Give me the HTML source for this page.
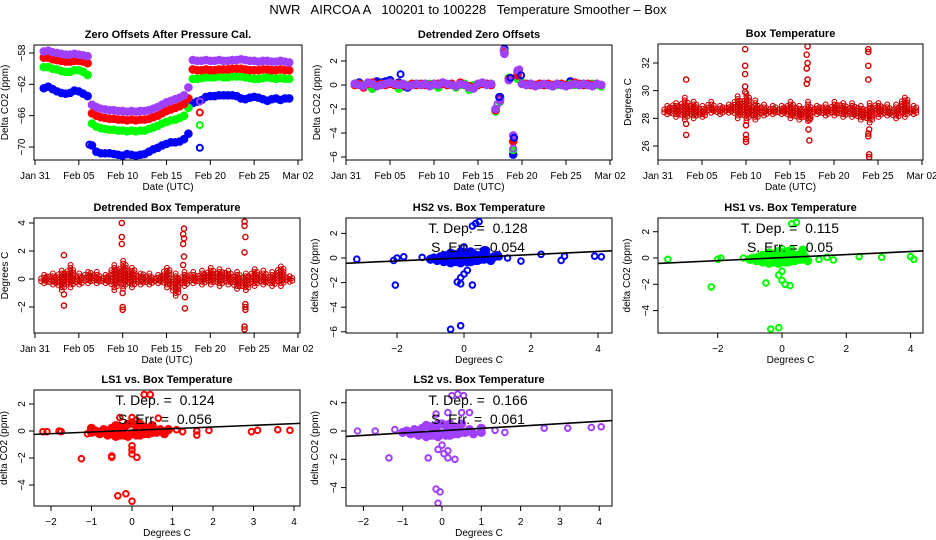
<!DOCTYPE html>
<html><head><meta charset="utf-8"><style>
body{margin:0;background:#fff;}
svg{display:block;font-family:"Liberation Sans",Arial,sans-serif;}
.tl{font-size:10px;}
.ttl{font-size:11px;font-weight:bold;}
.ann{font-size:14px;}
</style></head><body>
<svg id="fig" width="936" height="540" viewBox="0 0 936 540">
<rect width="936" height="540" fill="#fff"/>
<text x="468" y="14" text-anchor="middle" font-size="13" style="white-space:pre">NWR   AIRCOA A   100201 to 100228   Temperature Smoother – Box</text>
</svg>
<script>
// ---------- data ----------
const dateTickDays=[0,5,10,15,20,25,30];
const dateTickLabels=["Jan 31","Feb 05","Feb 10","Feb 15","Feb 20","Feb 25","Mar 02"];
const zoPurple=[-57.8,-57.7,-57.9,-58.0,-58.1,-58.2,-58.2,-58.1,-58.2,-58.3,-58.4,-64.6,-64.9,-65.1,-65.2,-65.3,-65.3,-65.4,-65.4,-65.5,-65.4,-65.5,-65.4,-65.4,-65.3,-65.1,-64.9,-64.6,-64.3,-64.1,-63.9,-63.7,-63.4,-62.4,-58.9,-59.0,-59.0,-58.9,-59.0,-59.0,-58.9,-59.0,-59.0,-58.9,-58.9,-58.8,-58.9,-59.0,-59.0,-59.1,-59.0,-59.0,-59.1,-59.1,-59.0,-59.1,-59.2];
const zoRed=[-58.6,-58.6,-58.8,-58.9,-59.0,-59.1,-59.1,-59.0,-59.0,-59.1,-59.3,-65.7,-66.0,-66.2,-66.3,-66.4,-66.4,-66.5,-66.5,-66.6,-66.5,-66.6,-66.5,-66.5,-66.4,-66.2,-66.0,-65.7,-65.4,-65.2,-65.0,-64.8,-64.5,-63.8,-60.1,-60.2,-60.2,-60.1,-60.2,-60.2,-60.1,-60.1,-60.1,-60.0,-60.0,-60.0,-60.1,-60.2,-60.2,-60.2,-60.1,-60.1,-60.2,-60.2,-60.1,-60.2,-60.2];
const zoGreen=[-59.8,-59.8,-60.0,-60.1,-60.3,-60.4,-60.4,-60.2,-60.2,-60.4,-60.8,-67.0,-67.4,-67.6,-67.7,-67.8,-67.8,-67.9,-67.9,-68.0,-67.9,-68.0,-67.9,-67.9,-67.7,-67.5,-67.3,-67.0,-66.8,-66.6,-66.5,-66.3,-66.0,-65.0,-61.3,-61.3,-61.2,-61.1,-61.1,-61.1,-61.0,-61.1,-61.1,-61.0,-61.0,-61.0,-61.1,-61.2,-61.3,-61.3,-61.2,-61.1,-61.2,-61.3,-61.2,-61.3,-61.3];
const zoBlue=[-62.5,-62.3,-62.6,-62.9,-63.1,-63.2,-63.1,-62.8,-62.9,-63.2,-63.5,-69.8,-70.6,-70.8,-70.8,-70.8,-70.9,-71.0,-71.1,-70.9,-71.0,-71.1,-71.0,-70.9,-70.6,-70.3,-70.1,-69.8,-69.6,-69.4,-69.4,-69.3,-69.0,-68.3,-64.4,-64.2,-64.0,-63.6,-63.5,-63.5,-63.4,-63.4,-63.4,-63.4,-63.5,-63.8,-63.9,-63.7,-63.6,-63.7,-63.9,-64.1,-63.9,-63.8,-64.0,-63.8,-63.8];
const zoOutDays=[18.8,18.8,18.8,18.8];
const zoOutVals=[-70.1,-67.2,-65.6,-64.2];
const dzPurple=[0.1,0.0,-0.1,0.2,0.1,-0.1,0.0,0.1,0.2,0.1,0.0,0.1,-0.1,0.0,0.1,0.0,0.1,-0.1,0.1,0.0,0.2,0.1,0.0,-0.1,0.1,0.0,-0.2,-0.3,0.1,0.2,0.0,0.1,-2.0,-1.3,2.6,0.4,-4.2,1.2,0.1,0.0,0.1,-0.1,0.0,0.1,0.0,-0.1,0.1,0.0,-0.1,0.0,0.1,0.0,0.1,0.0,-0.1,0.1,0.0];
const dzRed=[0.0,0.1,-0.2,0.1,0.2,0.0,0.1,0.0,0.1,0.0,0.1,0.0,-0.1,0.1,0.0,0.1,0.0,0.0,0.1,0.1,0.1,0.0,0.1,-0.1,0.2,0.0,-0.1,-0.2,0.0,0.1,0.1,0.0,-2.1,-1.2,2.7,0.5,-4.7,0.8,0.1,0.1,0.0,0.0,0.1,0.0,0.1,0.0,0.1,0.1,0.0,0.0,0.2,0.1,0.0,0.1,0.0,0.1,0.0];
const dzGreen=[0.0,0.1,0.0,0.1,-0.3,0.0,0.1,0.0,0.1,0.1,-0.3,0.1,0.0,0.1,0.0,0.1,0.0,0.1,0.0,-0.2,0.1,0.0,0.1,-0.2,0.0,0.1,-0.4,0.0,0.1,0.1,0.0,0.1,-2.2,-1.4,2.8,0.6,-5.4,0.5,0.2,0.0,0.1,0.0,0.1,0.0,0.1,0.0,0.0,0.1,0.0,0.1,0.0,0.1,0.0,0.1,0.1,0.0,-0.1];
const dzBlue=[0.1,0.2,0.0,0.1,-0.3,0.3,0.2,0.3,0.4,0.1,0.2,-0.1,-0.2,0.0,0.1,0.0,0.1,0.0,0.0,0.1,0.2,0.0,0.1,-0.1,0.1,0.0,-0.2,-0.2,0.0,0.1,0.1,0.0,-2.0,-1.0,3.0,0.5,-5.8,1.1,0.1,0.0,0.1,0.0,0.1,0.0,0.0,-0.1,0.1,0.0,0.0,0.3,0.1,0.0,0.1,0.0,0.0,0.1,0.0];
const dzOutDays=[6.2,17.2,17.4,17.9,18.7,19.0,19.1,19.7,19.9];
const dzOutVals=[0.9,-1.6,-1.0,2.9,0.6,-5.3,-4.4,1.3,0.8];
const btHi=[28.9,29.2,29.5,29.3,28.9,29.2,29.0,29.0,29.7,29.8,29.3,29.0,29.0,28.9,29.3,29.0,29.2,29.0,29.0,29.2,29.2,29.1,29.0,29.1,29.2,29.0,29.0,29.6,28.9];
const btLo=[28.3,28.1,27.9,28.0,28.1,28.4,28.3,28.4,28.0,27.8,27.9,28.2,28.3,28.3,28.0,27.9,27.8,28.3,28.2,28.2,28.1,28.1,27.9,27.7,28.1,28.2,28.0,28.1,28.3];
const btOutDays=[3.2,3.2,3.2,9.9,9.9,9.9,9.9,9.9,10.0,10.0,10.0,10.0,17.0,16.9,17.0,16.9,17.0,16.9,17.2,17.1,17.2,23.9,23.9,23.9,23.9,24.0,23.9,23.9,24.0,24.0];
const btOutVals=[30.8,27.6,26.8,33.0,31.8,31.2,30.3,29.9,27.5,26.8,26.5,26.3,33.2,32.6,32.0,31.6,30.8,30.5,27.9,27.2,26.4,33.0,32.8,31.8,30.8,27.2,26.9,26.7,25.4,25.2];
const dbHi=[0.3,0.4,0.7,1.0,0.4,0.6,0.5,0.4,1.1,1.3,0.9,0.5,0.4,0.3,0.9,0.5,0.5,0.5,0.6,0.8,0.8,0.7,0.5,0.5,0.8,0.6,0.5,1.0,0.3];
const dbLo=[-0.3,-0.4,-0.8,-0.6,-0.4,-0.3,-0.3,-0.3,-0.8,-0.7,-0.6,-0.4,-0.4,-0.3,-0.6,-1.2,-0.5,-0.3,-0.4,-0.4,-0.5,-0.4,-0.7,-0.8,-0.5,-0.4,-0.5,-0.5,-0.2];
const dbOutDays=[3.3,3.3,3.3,9.9,9.9,9.9,10.0,10.0,10.0,17.0,16.9,17.0,16.9,17.0,16.9,17.1,17.1,23.9,23.9,24.0,23.9,24.0,24.0,24.0,23.9,23.9];
const dbOutVals=[1.7,-1.1,-1.9,4.0,3.0,2.5,-1.0,-2.0,-2.2,3.6,3.2,2.9,2.5,1.6,1.0,-1.3,-2.1,4.1,3.8,3.0,1.9,-1.8,-2.0,-2.2,-3.4,-3.6];
const hs2X=[-1.0,-0.9,-0.8,-0.7,-0.6,-0.5,-0.4,-0.3,-0.2,-0.1,0.0,0.1,0.2,0.3,0.4,0.5,0.6,0.7,0.8,0.9,-0.5,-0.3,-0.1,0.1,0.3,0.5,-0.4,-0.2,0.0,0.2,0.4,-0.6,0.6,0.0,-0.15,0.15,-3.2,-2.1,-2.05,-2.0,-1.8,-1.25,1.0,1.05,1.3,1.7,2.3,2.9,3.0,3.9,4.1,0.25,0.35,0.45,-0.2,-0.1,0.0,0.1,-0.1,0.25,-0.4,-0.1,0.6,0.65];
const hs2Y=[-0.1,0.0,-0.2,0.1,-0.3,0.2,-0.4,0.3,-0.3,0.5,-0.2,0.4,-0.3,0.3,-0.2,0.2,-0.1,0.1,-0.2,0.1,-0.2,-0.3,-0.4,-0.3,-0.2,-0.1,0.4,0.2,0.9,0.5,0.2,0.2,0.3,0.0,0.1,-0.1,-0.1,-0.2,-2.2,0.0,0.1,0.05,0.2,0.1,0.0,-0.25,0.3,-0.2,0.15,0.15,0.1,2.6,2.8,2.95,-1.95,-1.6,-1.3,-1.0,-2.1,-2.2,-5.8,-5.5,0.6,0.6];
const hs1X=[-1.0,-0.9,-0.8,-0.7,-0.6,-0.5,-0.4,-0.3,-0.2,-0.1,0.0,0.1,0.2,0.3,0.4,0.5,0.6,0.7,0.8,-0.5,-0.3,-0.1,0.1,0.3,0.5,-0.4,-0.2,0.0,0.2,0.4,-0.6,0.6,0.0,-3.55,-2.2,-2.0,-1.9,-1.2,1.15,1.4,1.6,2.4,3.1,4.0,4.1,0.3,0.45,-0.5,-0.1,0.0,0.0,0.1,0.25,-0.35,-0.1,0.65,0.3];
const hs1Y=[-0.1,0.0,-0.2,0.1,-0.3,0.2,-0.4,0.3,-0.3,0.5,-0.2,0.4,-0.3,0.3,-0.2,0.2,-0.1,0.1,-0.2,-0.2,-0.3,-0.4,-0.3,-0.2,-0.1,0.4,0.2,0.7,0.5,0.2,0.2,0.3,0.0,-0.1,-2.2,-0.1,0.0,0.0,-0.1,0.05,-0.15,0.1,0.05,0.1,-0.1,2.6,2.7,-1.9,-1.3,-1.0,-1.7,-2.0,-2.1,-5.4,-5.3,0.6,0.7];
const ls1X=[-1.0,-0.9,-0.8,-0.7,-0.6,-0.5,-0.4,-0.3,-0.2,-0.1,0.0,0.1,0.2,0.3,0.4,0.5,0.6,0.7,0.8,0.9,-0.5,-0.3,-0.1,0.1,0.3,0.5,-0.4,-0.2,0.0,0.2,0.4,-2.2,-2.1,-1.8,-1.75,-1.25,-1.1,-1.0,-0.5,-0.5,-0.35,-0.15,0.0,0.0,0.0,0.0,0.12,-0.3,0.0,0.1,0.65,0.3,0.45,1.25,1.6,1.6,1.9,2.95,3.1,3.6,3.9,1.1];
const ls1Y=[-0.1,0.0,-0.2,0.1,-0.3,0.2,-0.4,0.3,-0.3,0.5,-0.2,0.4,-0.3,0.3,-0.2,0.4,-0.1,0.1,-0.2,0.1,-0.2,-0.3,-0.4,-0.3,-0.2,-0.1,0.4,0.2,0.6,0.5,0.2,-0.05,-0.05,0.0,-0.05,-2.05,-0.2,0.2,-1.85,-1.95,-4.8,-4.65,-5.2,-1.1,-1.4,-1.7,-1.95,1.0,1.0,0.8,0.95,2.7,2.7,-0.05,0.0,-0.3,0.05,-0.05,0.05,0.1,0.05,0.1];
const ls2X=[-1.0,-0.9,-0.8,-0.7,-0.6,-0.5,-0.4,-0.3,-0.2,-0.1,0.0,0.1,0.2,0.3,0.4,0.5,0.6,0.7,0.8,-0.5,-0.3,-0.1,0.1,0.3,0.5,-0.4,-0.2,0.0,0.2,0.4,-0.15,0.15,-2.15,-1.7,-1.35,-1.2,-0.35,-0.15,-0.05,-0.1,-0.1,0.0,0.05,0.15,0.15,0.33,-0.15,0.15,0.5,0.7,0.25,0.4,0.55,1.0,1.0,1.35,1.6,2.6,3.2,3.8,4.05];
const ls2Y=[-0.1,0.0,-0.2,0.1,-0.3,0.2,-0.4,0.3,-0.3,0.5,-0.2,0.4,-0.3,0.3,-0.2,0.5,-0.1,0.1,-0.2,-0.2,-0.3,-0.4,-0.3,-0.2,-0.1,0.4,0.2,0.5,0.5,0.2,0.1,-0.1,0.0,0.0,-1.9,0.1,-1.9,-4.1,-4.3,-5.1,-1.3,-1.0,-1.6,-1.4,-1.9,-2.0,1.2,1.3,1.3,1.3,2.5,2.6,2.5,0.2,-0.1,0.05,-0.1,0.2,0.2,0.25,0.3];
const fitSlopes=[0.128,0.115,0.124,0.166];
const fitIntercepts=[0.02,0.03,0.05,0.02];
const fitSerr=["0.054","0.05","0.056","0.061"];

const NS="http://www.w3.org/2000/svg";
const svg=document.getElementById('fig');
function mk(tag,attrs,parent){const e=document.createElementNS(NS,tag);for(const k in attrs)e.setAttribute(k,attrs[k]);(parent||svg).appendChild(e);return e;}
function lin(d0,d1,r0,r1){return v=>r0+(v-d0)*(r1-r0)/(d1-d0);}
function panel(id,box,xs,ys,xticks,xlabels,yticks,title,xtitle,ytitle,ytitleX){
  const g=mk('g',{});
  
  
  const [x0,y0,x1,y1]=box;
  const t=mk('text',{x:(x0+x1)/2,y:y0-7,'text-anchor':'middle',class:'ttl'},g);t.textContent=title;
  
  
  const clip=mk('clipPath',{id:'c'+id},g);mk('rect',{x:x0,y:y0,width:x1-x0,height:y1-y0},clip);
  const plot=mk('g',{'clip-path':'url(#c'+id+')'},g);
  
  
  const xa=mk('g',{},g);
  
  
  xticks.forEach((v,i)=>{const px=xs(v);mk('line',{x1:px,y1:y1,x2:px,y2:y1+5,stroke:'#000'},xa);
    const tx=mk('text',{x:px,y:y1+19,'text-anchor':'middle',class:'tl'},xa);tx.textContent=xlabels[i];});
  const xt=mk('text',{x:(x0+x1)/2,y:y1+30,'text-anchor':'middle',class:'tl'},g);xt.textContent=xtitle;
  
  
  const ya=mk('g',{},g);
  
  
  yticks.forEach(v=>{const py=ys(v);mk('line',{x1:x0-5,y1:py,x2:x0,y2:py,stroke:'#000'},ya);
    const tx=mk('text',{x:x0-9,y:py,'text-anchor':'middle',class:'tl',transform:`rotate(-90 ${x0-9} ${py})`},ya);tx.textContent=(v<0?'\u2212'+(-v):String(v));});
  const yc=(y0+y1)/2;
  const yt=mk('text',{x:ytitleX,y:yc,'text-anchor':'middle',class:'tl',transform:`rotate(-90 ${ytitleX} ${yc})`},g);yt.textContent=ytitle;
  
  
  mk('rect',{x:x0,y:y0,width:x1-x0,height:y1-y0,fill:'none',stroke:'#000'},g);
  return plot;
}
function dot(p,x,y,col,r,sw,fill){return mk('circle',{cx:x,cy:y,r:r,fill:fill||'none',stroke:col,'stroke-width':sw},p);}
const PURPLE='#a040ff';
const dayOf=i=>1+i*0.5;

{const xs=lin(0,30,35,298),ys=lin(-58,-70,53,147);
 const p=panel('zero-offsets-panel',[34,45,302,160],xs,ys,dateTickDays,dateTickLabels,[-58,-62,-66,-70],'Zero Offsets After Pressure Cal.','Date (UTC)','Delta CO2 (ppm)',8);
 [[zoBlue,'#0000ff'],[zoGreen,'#00ff00'],[zoRed,'#ff0000'],[zoPurple,PURPLE]].forEach(([arr,col])=>{
   const s=mk('g',{},p);
   
   
   arr.forEach((v,i)=>dot(s,xs(dayOf(i)),ys(v),col,3.2,2.2,col));});
 const cols=['#0000ff','#00ff00','#ff0000',PURPLE];
 zoOutDays.forEach((d,i)=>dot(p,xs(d),ys(zoOutVals[i]),cols[i],3,2));
 dot(p,xs(6.2),ys(-69.7),'#0000ff',3,2);
}
{const xs=lin(0,30,346,610),ys=lin(0,2,85,61);
 const p=panel('detrended-zero-offsets-panel',[346,45,612,160],xs,ys,dateTickDays,dateTickLabels,[2,0,-2,-4,-6],'Detrended Zero Offsets','Date (UTC)','Delta CO2 (ppm)',320);
 [[dzBlue,'#0000ff'],[dzGreen,'#00ff00'],[dzRed,'#ff0000'],[dzPurple,PURPLE]].forEach(([arr,col])=>{
   const s=mk('g',{},p);
   
   
   arr.forEach((v,i)=>dot(s,xs(dayOf(i)),ys(v),col,3.2,2.2,col));});
 dzOutDays.forEach((d,i)=>dot(p,xs(d),ys(dzOutVals[i]),i%2?PURPLE:'#0000ff',3,2));
}
function band(p,xs,ys,hi,lo){
  hi.forEach((h,i)=>{const d=i+1;
    [[-0.3,0.55],[0.05,1],[0.35,0.7]].forEach(([o,f])=>{
      const mid=(h+lo[i])/2,half=(h-lo[i])/2*f;
      for(let v=mid-half;v<=mid+half+1e-6;v+=0.2)dot(p,xs(d+o),ys(v),'#d00000',2.4,1.1);});});
}
{const xs=lin(0,30,658,922),ys=lin(32,26,63,146);
 const p=panel('box-temperature-panel',[658,44,923,160],xs,ys,dateTickDays,dateTickLabels,[26,28,30,32],'Box Temperature','Date (UTC)','Degrees C',631);
 band(p,xs,ys,btHi,btLo);
 btOutDays.forEach((d,i)=>dot(p,xs(d),ys(btOutVals[i]),'#d00000',2.6,1.4));
}
{const xs=lin(0,30,35,298),ys=lin(0,4,279,223);
 const p=panel('detrended-box-temperature-panel',[34,218,300,333],xs,ys,dateTickDays,dateTickLabels,[-2,0,2,4],'Detrended Box Temperature','Date (UTC)','Degrees C',8);
 band(p,xs,ys,dbHi,dbLo);
 dbOutDays.forEach((d,i)=>dot(p,xs(d),ys(dbOutVals[i]),'#d00000',2.6,1.4));
}
function scatter(id,box,xs,ys,xt,xl,yt,title,ytx,X,Y,col,k,annX,annY){
  const p=panel(id,box,xs,ys,xt,xl,yt,title,'Degrees C','delta CO2 (ppm)',ytx);
  const s=mk('g',{},p);
  
  
  X.forEach((v,i)=>{const inCl=Math.abs(v)<=1&&Math.abs(Y[i])<=0.6;
    dot(s,xs(v),ys(Y[i]),col,inCl?3.6:2.8,2,inCl?col:'none');});
  const xa=-6,xb=6;
  const ln=mk('line',{x1:xs(xa),y1:ys(fitIntercepts[k]+fitSlopes[k]*xa),x2:xs(xb),y2:ys(fitIntercepts[k]+fitSlopes[k]*xb),stroke:'#000','stroke-width':1.6},p);
  
  
  const a=mk('text',{x:annX,y:annY,'text-anchor':'middle',class:'ann','style':'white-space:pre'});a.textContent='T. Dep. =  '+fitSlopes[k];
  
  
  const b=mk('text',{x:annX,y:annY+19,'text-anchor':'middle',class:'ann','style':'white-space:pre'});b.textContent='S. Err. =  '+fitSerr[k];
  
  
}
scatter('hs2-scatter-panel',[346,218,612,333],lin(0,2,464,531),lin(0,2,258,233.4),[-2,0,2,4],['\u22122','0','2','4'],[2,0,-2,-4,-6],'HS2 vs. Box Temperature',318,hs2X,hs2Y,'#0000ff',0,478,233);
scatter('hs1-scatter-panel',[658,218,923,333],lin(0,2,782,846.3),lin(0,2,258,231.7),[-2,0,2,4],['\u22122','0','2','4'],[2,0,-2,-4],'HS1 vs. Box Temperature',630,hs1X,hs1Y,'#00ff00',1,790,233);
scatter('ls1-scatter-panel',[34,390,300,506],lin(0,1,132,172.5),lin(0,2,431,404),[-2,-1,0,1,2,3,4],['\u22122','\u22121','0','1','2','3','4'],[2,0,-2,-4],'LS1 vs. Box Temperature',7,ls1X,ls1Y,'#ff0000',2,165,405);
scatter('ls2-scatter-panel',[346,390,612,506],lin(0,1,442,481.3),lin(0,2,431,402.7),[-2,-1,0,1,2,3,4],['\u22122','\u22121','0','1','2','3','4'],[2,0,-2,-4],'LS2 vs. Box Temperature',318,ls2X,ls2Y,PURPLE,3,478,405);
</script>
</body></html>
